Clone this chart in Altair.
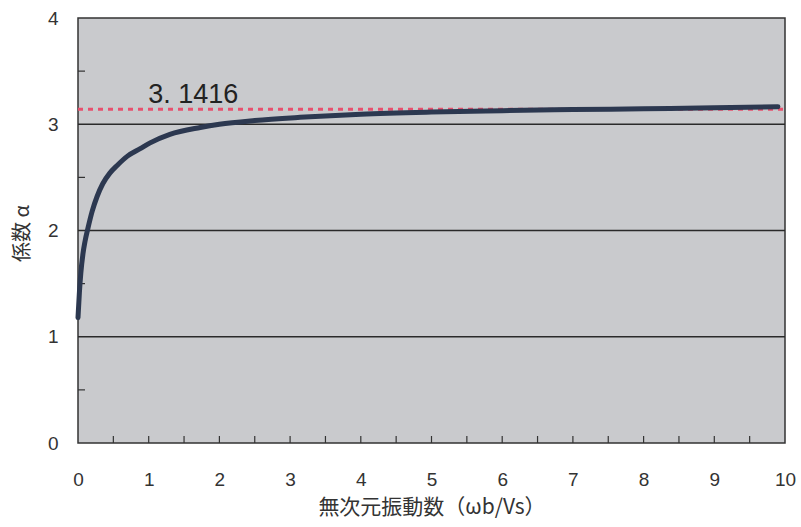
import altair as alt
import pandas as pd

# curve data
omega = [0.0, 0.02, 0.04, 0.07, 0.1, 0.14, 0.2, 0.27, 0.35, 0.45, 0.55, 0.7, 0.88, 1.02,
         1.3, 1.73, 2.0, 2.5, 3.14, 4.0, 5.0, 6.0, 7.0, 8.0, 9.0, 9.9]
alpha = [1.18, 1.42, 1.6, 1.78, 1.9, 2.02, 2.18, 2.32, 2.44, 2.54, 2.61, 2.7, 2.77, 2.825,
         2.905, 2.97, 3.0, 3.035, 3.065, 3.095, 3.115, 3.128, 3.138, 3.146, 3.155, 3.165]

pi_value = [3.1416]
pi_label = ["3. 1416"]
grid_values = [1, 2, 3]
x_minor = [0.5 * i for i in range(1, 20)]
y_minor = [0.5, 1.5, 2.5, 3.5]
x_ticks = list(range(0, 11))
y_ticks = [0, 1, 2, 3, 4]

W, H = 707, 425
FONT = "Liberation Sans"
TXT = "#333333"

curve = pd.DataFrame({"x": omega, "y": alpha})
xs = alt.Scale(domain=[0, 10], nice=False, zero=False)
ys = alt.Scale(domain=[0, 4], nice=False, zero=False)

xaxis = alt.Axis(values=x_ticks, format="d", grid=False, ticks=False, domain=False, labelFontSize=19,
                 labelColor=TXT, labelPadding=27, labelFont=FONT, labelFlush=False, labelOverlap=False,
                 title="無次元振動数（ωb/Vs）", titleFontSize=21, titleFontWeight="normal",
                 titleColor=TXT, titlePadding=7, titleFont="Noto Sans CJK JP")
yaxis = alt.Axis(values=y_ticks, format="d", grid=False, ticks=False, domain=False, labelFontSize=19,
                 labelColor=TXT, labelPadding=20, labelFont=FONT, labelFlush=False, labelOverlap=False,
                 title="係数 α", titleFontSize=20, titleFontWeight="normal",
                 titleColor=TXT, titleFont="Noto Sans CJK JP", titleX=-56, titleY=215,
                 titleAlign="center", titleBaseline="middle", titleAngle=270)

grid = alt.Chart(pd.DataFrame({"g": grid_values})).mark_rule(color="#2a2a2a", strokeWidth=1.3).encode(
    y=alt.Y("g:Q", scale=ys, axis=yaxis)
)

xt = alt.Chart(pd.DataFrame({"t": x_minor})).mark_rule(color="#333333", strokeWidth=1.2).encode(
    x=alt.X("t:Q", scale=xs, axis=xaxis), y=alt.value(H), y2=alt.value(H - 7)
)
yt = alt.Chart(pd.DataFrame({"t": y_minor})).mark_rule(color="#333333", strokeWidth=1.2).encode(
    y=alt.Y("t:Q", scale=ys), x=alt.value(0), x2=alt.value(7)
)

pi_df = pd.DataFrame({"v": pi_value})
dash = alt.Chart(pi_df).mark_rule(color="#e8506e", strokeWidth=3, strokeDash=[5, 5]).encode(
    y=alt.Y("v:Q", scale=ys), x=alt.value(0), x2=alt.value(W)
)

line = alt.Chart(curve).mark_line(color="#2c3850", strokeWidth=5, interpolate="monotone",
                                  strokeCap="round").encode(
    x=alt.X("x:Q", scale=xs), y=alt.Y("y:Q", scale=ys)
)

lab = alt.Chart(pd.DataFrame({"x": [1.63], "y": [3.28], "t": pi_label})).mark_text(
    fontSize=27, font=FONT, color="#222222", align="center", baseline="middle"
).encode(x=alt.X("x:Q", scale=xs), y=alt.Y("y:Q", scale=ys), text="t:N")

chart = alt.layer(grid, xt, yt, dash, line, lab).properties(
    width=W, height=H,
    autosize=alt.AutoSizeParams(type="none"),
    padding={"left": 78, "top": 18, "right": 16, "bottom": 84},
    background="white",
).configure_view(fill="#c9cacd", stroke="#333333", strokeWidth=1.5)

chart.save("out.html", embed_options={"renderer": "svg", "actions": False})
